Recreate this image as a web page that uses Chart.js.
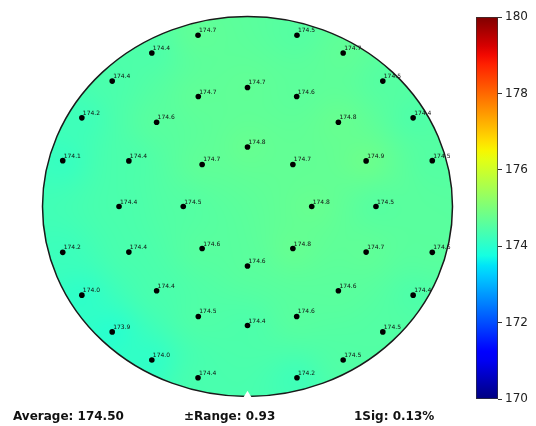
<!DOCTYPE html>
<html>
<head>
<meta charset="utf-8">
<script src="https://cdn.jsdelivr.net/npm/chart.js@4/dist/chart.umd.min.js"></script>
<style>
  html, body { margin: 0; padding: 0; background: #fff; }
  #wrap { position: relative; width: 536px; height: 426px; overflow: hidden; }
  #map { position: absolute; left: 0; top: 0; }
  #bar { position: absolute; left: 460px; top: 0; }
  .stat { position: absolute; top: 409px; font: bold 12px "DejaVu Sans", sans-serif; color: #111; white-space: nowrap; }
</style>
</head>
<body>
<div id="wrap">
  <canvas id="map" width="460" height="426"></canvas>
  <canvas id="bar" width="76" height="426"></canvas>
  <div class="stat" id="s0" style="left:13px"></div>
  <div class="stat" id="s1" style="left:184px"></div>
  <div class="stat" id="s2" style="left:354px"></div>
</div>
<script>
// Wafer site coordinates (mm) and measured thickness at each site
const siteX = [
  0, 33.2, 47, 33.2, 0, -33.2, -47, -33.2,
  0, 36.0, 66.5, 86.8, 94, 86.8, 66.5, 36.0, 0, -36.0, -66.5, -86.8, -94, -86.8, -66.5, -36.0,
  36.2, 70.0, 99.0, 121.2, 135.2, 135.2, 121.2, 99.0, 70.0, 36.2,
  -36.2, -70.0, -99.0, -121.2, -135.2, -135.2, -121.2, -99.0, -70.0, -36.2
];
const siteY = [
  47, 33.2, 0, -33.2, -47, -33.2, 0, 33.2,
  94, 86.8, 66.5, 36.0, 0, -36.0, -66.5, -86.8, -94, -86.8, -66.5, -36.0, 0, 36.0, 66.5, 86.8,
  135.2, 121.2, 99.0, 70.0, 36.2, -36.2, -70.0, -99.0, -121.2, -135.2,
  -135.2, -121.2, -99.0, -70.0, -36.2, 36.2, 70.0, 99.0, 121.2, 135.2
];
const siteValues = [
  174.8, 174.7, 174.8, 174.8, 174.6, 174.6, 174.5, 174.7,
  174.7, 174.6, 174.8, 174.9, 174.5, 174.7, 174.6, 174.6, 174.4, 174.5, 174.4, 174.4, 174.4, 174.4, 174.6, 174.7,
  174.5, 174.7, 174.5, 174.4, 174.5, 174.6, 174.4, 174.5, 174.5, 174.2,
  174.4, 174.0, 173.9, 174.0, 174.2, 174.1, 174.2, 174.4, 174.4, 174.7
];

// Wafer geometry and colour scale
const waferRadius = 150;
const notchSize = [3.5, 4.5];   // half width, depth (mm)
const colorMin = 170, colorMax = 180;
const colorTicks = [170, 172, 174, 176, 178, 180];
const statLabels = ['Average: 174.50', '\u00B1Range: 0.93', '1Sig: 0.13%'];

statLabels.forEach((t, i) => { document.getElementById('s' + i).textContent = t; });

// matplotlib "jet" segment data
const JET = {
  r: [[0, 0], [0.35, 0], [0.66, 1], [0.89, 1], [1, 0.5]],
  g: [[0, 0], [0.125, 0], [0.375, 1], [0.64, 1], [0.91, 0], [1, 0]],
  b: [[0, 0.5], [0.11, 1], [0.34, 1], [0.65, 0], [1, 0]]
};
function seg(list, t) {
  for (let i = 1; i < list.length; i++) {
    if (t <= list[i][0]) {
      const [x0, y0] = list[i - 1], [x1, y1] = list[i];
      return y0 + (y1 - y0) * (t - x0) / (x1 - x0);
    }
  }
  return list[list.length - 1][1];
}
function jet(t) {
  t = Math.min(1, Math.max(0, t));
  return [seg(JET.r, t) * 255, seg(JET.g, t) * 255, seg(JET.b, t) * 255].map(Math.round);
}
function jetCss(t) { const c = jet(t); return `rgb(${c[0]},${c[1]},${c[2]})`; }

// Smooth inverse-distance weighting of the site values
function surface(x, y) {
  let sw = 0, sv = 0;
  for (let i = 0; i < siteValues.length; i++) {
    const dx = x - siteX[i], dy = y - siteY[i];
    const w = 1 / Math.pow(dx * dx + dy * dy + 225, 1.25);
    sw += w; sv += w * siteValues[i];
  }
  return sv / sw;
}

const waferPlugin = {
  id: 'wafer',
  beforeDatasetsDraw(chart) {
    const { ctx, chartArea: a, scales: { x, y } } = chart;
    const ox = Math.floor(a.left), oy = Math.floor(a.top);
    const w = Math.ceil(a.right) - ox, h = Math.ceil(a.bottom) - oy;
    const off = document.createElement('canvas');
    off.width = w; off.height = h;
    const octx = off.getContext('2d');
    const img = octx.createImageData(w, h);
    for (let j = 0; j < h; j++) {
      const vy = y.getValueForPixel(oy + j + 0.5);
      for (let i = 0; i < w; i++) {
        const vx = x.getValueForPixel(ox + i + 0.5);
        if (vx * vx + vy * vy > (waferRadius + 2) * (waferRadius + 2)) continue;
        const c = jet((surface(vx, vy) - colorMin) / (colorMax - colorMin));
        const k = (j * w + i) * 4;
        img.data[k] = c[0]; img.data[k + 1] = c[1]; img.data[k + 2] = c[2]; img.data[k + 3] = 255;
      }
    }
    octx.putImageData(img, 0, 0);

    const cx = x.getPixelForValue(0), cy = y.getPixelForValue(0);
    const rx = x.getPixelForValue(waferRadius) - cx, ry = cy - y.getPixelForValue(waferRadius);
    ctx.save();
    ctx.beginPath();
    ctx.ellipse(cx, cy, rx, ry, 0, 0, Math.PI * 2);
    ctx.clip();
    ctx.drawImage(off, ox, oy);
    ctx.restore();

    ctx.save();
    ctx.beginPath();
    ctx.ellipse(cx, cy, rx, ry, 0, 0, Math.PI * 2);
    ctx.lineWidth = 1.5;
    ctx.strokeStyle = '#1a1a1a';
    ctx.stroke();
    // notch at the bottom of the wafer
    ctx.beginPath();
    ctx.moveTo(x.getPixelForValue(-notchSize[0]), y.getPixelForValue(-waferRadius) + 2);
    ctx.lineTo(x.getPixelForValue(0), y.getPixelForValue(-waferRadius + notchSize[1]));
    ctx.lineTo(x.getPixelForValue(notchSize[0]), y.getPixelForValue(-waferRadius) + 2);
    ctx.closePath();
    ctx.fillStyle = '#fff';
    ctx.fill();
    ctx.restore();
  },
  afterDatasetsDraw(chart) {
    const { ctx } = chart;
    const meta = chart.getDatasetMeta(0);
    ctx.save();
    ctx.font = '6px "DejaVu Sans"';
    ctx.fillStyle = '#111';
    ctx.textBaseline = 'alphabetic';
    meta.data.forEach((pt, i) => {
      ctx.fillText(siteValues[i].toFixed(1), pt.x + 1, pt.y - 3);
    });
    ctx.restore();
  }
};

new Chart(document.getElementById('map'), {
  type: 'scatter',
  data: {
    datasets: [{
      data: siteX.map((v, i) => ({ x: v, y: siteY[i] })),
      pointRadius: 2.8,
      pointBackgroundColor: '#000',
      pointBorderWidth: 0
    }]
  },
  options: {
    responsive: false,
    animation: false,
    layout: { padding: { left: 42.5, right: 7.5, top: 16.5, bottom: 29.5 } },
    plugins: { legend: { display: false }, tooltip: { enabled: false } },
    scales: {
      x: { type: 'linear', min: -waferRadius, max: waferRadius, display: false },
      y: { type: 'linear', min: -waferRadius, max: waferRadius, display: false }
    }
  },
  plugins: [waferPlugin]
});

// Colour bar
new Chart(document.getElementById('bar'), {
  type: 'bar',
  data: {
    labels: [''],
    datasets: [{
      data: [[colorMin, colorMax]],
      backgroundColor(c) {
        const ch = c.chart;
        if (!ch.chartArea) return '#888';
        const y0 = ch.scales.y.getPixelForValue(colorMin), y1 = ch.scales.y.getPixelForValue(colorMax);
        const g = ch.ctx.createLinearGradient(0, y0, 0, y1);
        for (let i = 0; i <= 40; i++) g.addColorStop(i / 40, jetCss(i / 40));
        return g;
      },
      borderColor: '#333',
      borderWidth: 1,
      borderSkipped: false,
      barPercentage: 1,
      categoryPercentage: 1
    }]
  },
  options: {
    responsive: false,
    animation: false,
    layout: { padding: { left: 16, right: 0, top: 17, bottom: 27 } },
    plugins: { legend: { display: false }, tooltip: { enabled: false } },
    scales: {
      x: { display: false },
      y: {
        position: 'right',
        min: colorMin, max: colorMax,
        afterBuildTicks(s) { s.ticks = colorTicks.map(v => ({ value: v })); },
        afterFit(s) { s.width = 38; },
        border: { display: false },
        grid: { drawOnChartArea: false, drawTicks: true, tickLength: 4, color: '#333' },
        ticks: { color: '#222', padding: 3, font: { family: 'DejaVu Sans', size: 12 } }
      }
    }
  }
});
</script>
</body>
</html>
